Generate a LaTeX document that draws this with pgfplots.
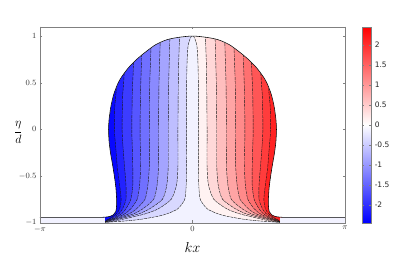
\documentclass[border=0pt]{standalone}
\usepackage{fontspec}
\usepackage{pgfplots}
\usepackage{pgfplotstable}
\pgfplotsset{compat=1.18}
\newfontfamily\cbfont{DejaVu Sans}

% band colours (lower level of each band, colour limits +-2.45)
\definecolor{bA}{rgb}{0.949,0.949,1}
\definecolor{bB}{rgb}{0.847,0.847,1}
\definecolor{bC}{rgb}{0.745,0.745,1}
\definecolor{bD}{rgb}{0.643,0.643,1}
\definecolor{bE}{rgb}{0.541,0.541,1}
\definecolor{bF}{rgb}{0.439,0.439,1}
\definecolor{bG}{rgb}{0.337,0.337,1}
\definecolor{bH}{rgb}{0.235,0.235,1}
\definecolor{bI}{rgb}{0.133,0.133,1}
\definecolor{bJ}{rgb}{0.031,0.031,1}
\definecolor{rA}{rgb}{1,0.949,0.949}
\definecolor{rB}{rgb}{1,0.847,0.847}
\definecolor{rC}{rgb}{1,0.745,0.745}
\definecolor{rD}{rgb}{1,0.643,0.643}
\definecolor{rE}{rgb}{1,0.541,0.541}
\definecolor{rF}{rgb}{1,0.439,0.439}
\definecolor{rG}{rgb}{1,0.337,0.337}
\definecolor{rH}{rgb}{1,0.235,0.235}
\definecolor{rI}{rgb}{1,0.133,0.133}

% free surface, then the two top corners of the box (rows 51,52)
\pgfplotstableread{
x y
-3.1416 -0.943
-2.00 -0.943
-1.85 -0.942
-1.72 -0.935
-1.63 -0.915
-1.58 -0.88
-1.565 -0.82
-1.565 -0.73
-1.58 -0.62
-1.61 -0.5
-1.65 -0.37
-1.69 -0.25
-1.72 -0.12
-1.73 0
-1.72 0.1
-1.68 0.25
-1.62 0.38
-1.53 0.5
-1.45 0.57
-1.32 0.66
-1.15 0.75
-0.94 0.84
-0.75 0.91
-0.53 0.96
-0.30 0.985
0 1.0
0.30 0.985
0.53 0.96
0.75 0.91
0.94 0.84
1.15 0.75
1.32 0.66
1.45 0.57
1.53 0.5
1.62 0.38
1.68 0.25
1.72 0.1
1.73 0
1.72 -0.12
1.69 -0.25
1.65 -0.37
1.61 -0.5
1.58 -0.62
1.565 -0.73
1.565 -0.82
1.58 -0.88
1.63 -0.915
1.72 -0.935
1.85 -0.942
2.00 -0.943
3.1416 -0.943
3.1416 1.1
-3.1416 1.1
}\surf

% contour lines, left side (first 3 rows only close the filled region)
\pgfplotstableread{
x y
-1.80 -0.94
-2.20 -0.93
-2.20 1.09
-1.57 1.09
-1.57 0.45
-1.60 0.25
-1.61 0
-1.58 -0.2
-1.55 -0.4
-1.50 -0.6
-1.47 -0.75
-1.50 -0.85
-1.56 -0.90
-1.63 -0.93
-1.72 -0.96
-1.77 -0.972
-1.80 -0.988
}\LA
\pgfplotstableread{
x y
-1.80 -0.94
-2.20 -0.93
-2.20 1.09
-1.41 1.09
-1.41 0.58
-1.44 0.35
-1.45 0
-1.43 -0.2
-1.40 -0.4
-1.37 -0.6
-1.37 -0.75
-1.44 -0.85
-1.51 -0.90
-1.59 -0.93
-1.71 -0.962
-1.76 -0.975
-1.80 -0.989
}\LB
\pgfplotstableread{
x y
-1.80 -0.94
-2.20 -0.93
-2.20 1.09
-1.21 1.09
-1.22 0.65
-1.24 0.4
-1.25 0
-1.24 -0.2
-1.23 -0.4
-1.23 -0.6
-1.27 -0.75
-1.37 -0.85
-1.45 -0.90
-1.54 -0.93
-1.69 -0.965
-1.75 -0.976
-1.80 -0.99
}\LC
\pgfplotstableread{
x y
-1.80 -0.94
-2.20 -0.93
-2.20 1.09
-1.04 1.09
-1.05 0.75
-1.07 0.4
-1.08 0
-1.07 -0.4
-1.09 -0.6
-1.14 -0.75
-1.27 -0.85
-1.38 -0.90
-1.49 -0.93
-1.66 -0.965
-1.74 -0.977
-1.80 -0.991
}\LD
\pgfplotstableread{
x y
-1.80 -0.94
-2.20 -0.93
-2.20 1.09
-0.85 1.09
-0.86 0.8
-0.88 0.5
-0.89 0
-0.89 -0.4
-0.92 -0.6
-0.98 -0.75
-1.15 -0.85
-1.29 -0.90
-1.43 -0.93
-1.63 -0.965
-1.72 -0.978
-1.80 -0.992
}\LE
\pgfplotstableread{
x y
-1.80 -0.94
-2.20 -0.93
-2.20 1.09
-0.66 1.09
-0.67 0.85
-0.69 0.5
-0.70 0
-0.70 -0.4
-0.73 -0.6
-0.80 -0.75
-1.02 -0.85
-1.19 -0.90
-1.36 -0.93
-1.59 -0.965
-1.70 -0.98
-1.80 -0.993
}\LF
\pgfplotstableread{
x y
-1.80 -0.94
-2.20 -0.93
-2.20 1.09
-0.46 1.09
-0.47 0.9
-0.49 0.5
-0.50 0
-0.50 -0.4
-0.53 -0.6
-0.62 -0.75
-0.88 -0.85
-1.08 -0.90
-1.27 -0.93
-1.55 -0.965
-1.68 -0.982
-1.80 -0.994
}\LG
\pgfplotstableread{
x y
-1.80 -0.94
-2.20 -0.93
-2.20 1.09
-0.27 1.09
-0.27 0.95
-0.29 0.6
-0.30 0
-0.30 -0.4
-0.33 -0.6
-0.44 -0.75
-0.70 -0.85
-0.94 -0.90
-1.16 -0.93
-1.45 -0.965
-1.62 -0.985
-1.80 -0.995
}\LH
\pgfplotstableread{
x y
-1.80 -0.94
-2.20 -0.93
-2.20 1.09
-0.01 1.09
-0.02 1.0
-0.05 0.97
-0.09 0.9
-0.11 0.75
-0.12 0.5
-0.12 0
-0.12 -0.4
-0.13 -0.6
-0.16 -0.75
-0.30 -0.85
-0.50 -0.90
-0.70 -0.93
-1.08 -0.965
-1.40 -0.982
-1.80 -0.996
}\LI

% contour lines, right side
\pgfplotstableread{
x y
1.80 -0.94
2.20 -0.93
2.20 1.09
1.57 1.09
1.57 0.45
1.60 0.25
1.61 0
1.58 -0.2
1.55 -0.4
1.50 -0.6
1.47 -0.75
1.50 -0.85
1.56 -0.90
1.63 -0.93
1.72 -0.96
1.77 -0.972
1.80 -0.988
}\RA
\pgfplotstableread{
x y
1.80 -0.94
2.20 -0.93
2.20 1.09
1.41 1.09
1.41 0.58
1.44 0.35
1.45 0
1.43 -0.2
1.40 -0.4
1.37 -0.6
1.37 -0.75
1.44 -0.85
1.51 -0.90
1.59 -0.93
1.71 -0.962
1.76 -0.975
1.80 -0.989
}\RB
\pgfplotstableread{
x y
1.80 -0.94
2.20 -0.93
2.20 1.09
1.21 1.09
1.22 0.65
1.24 0.4
1.25 0
1.24 -0.2
1.23 -0.4
1.23 -0.6
1.27 -0.75
1.37 -0.85
1.45 -0.90
1.54 -0.93
1.69 -0.965
1.75 -0.976
1.80 -0.99
}\RC
\pgfplotstableread{
x y
1.80 -0.94
2.20 -0.93
2.20 1.09
1.04 1.09
1.05 0.75
1.07 0.4
1.08 0
1.07 -0.4
1.09 -0.6
1.14 -0.75
1.27 -0.85
1.38 -0.90
1.49 -0.93
1.66 -0.965
1.74 -0.977
1.80 -0.991
}\RD
\pgfplotstableread{
x y
1.80 -0.94
2.20 -0.93
2.20 1.09
0.85 1.09
0.86 0.8
0.88 0.5
0.89 0
0.89 -0.4
0.92 -0.6
0.98 -0.75
1.15 -0.85
1.29 -0.90
1.43 -0.93
1.63 -0.965
1.72 -0.978
1.80 -0.992
}\RE
\pgfplotstableread{
x y
1.80 -0.94
2.20 -0.93
2.20 1.09
0.66 1.09
0.67 0.85
0.69 0.5
0.70 0
0.70 -0.4
0.73 -0.6
0.80 -0.75
1.02 -0.85
1.19 -0.90
1.36 -0.93
1.59 -0.965
1.70 -0.98
1.80 -0.993
}\RF
\pgfplotstableread{
x y
1.80 -0.94
2.20 -0.93
2.20 1.09
0.46 1.09
0.47 0.9
0.49 0.5
0.50 0
0.50 -0.4
0.53 -0.6
0.62 -0.75
0.88 -0.85
1.08 -0.90
1.27 -0.93
1.55 -0.965
1.68 -0.982
1.80 -0.994
}\RG
\pgfplotstableread{
x y
1.80 -0.94
2.20 -0.93
2.20 1.09
0.27 1.09
0.27 0.95
0.29 0.6
0.30 0
0.30 -0.4
0.33 -0.6
0.44 -0.75
0.70 -0.85
0.94 -0.90
1.16 -0.93
1.45 -0.965
1.62 -0.985
1.80 -0.995
}\RH
\pgfplotstableread{
x y
1.80 -0.94
2.20 -0.93
2.20 1.09
0.01 1.09
0.02 1.0
0.05 0.97
0.09 0.9
0.11 0.75
0.12 0.5
0.12 0
0.12 -0.4
0.13 -0.6
0.16 -0.75
0.30 -0.85
0.50 -0.90
0.70 -0.93
1.08 -0.965
1.40 -0.982
1.80 -0.996
}\RI

\begin{document}
\begin{tikzpicture}
\useasboundingbox (-40pt,-40.3pt) rectangle (367pt,222.7pt);
\begin{axis}[
    at={(0,0)}, anchor=south west,
    width=305pt, height=196pt, scale only axis,
    xmin=-3.14159, xmax=3.14159,
    ymin=-1, ymax=1.1,
    xtick={-3.14159,0,3.14159},
    xticklabels={$-\pi$,$0$,$\pi$},
    ytick={-1,-0.5,0,0.5,1},
    tick align=inside,
    major tick length=2.5pt,
    axis line style={gray},
    tick style={gray},
    tick label style={font=\fontsize{8}{9}\selectfont, text=black!80},
    xlabel={$kx$},
    xlabel style={at={(axis description cs:0.5,-0.124)}, anchor=center,
        font=\fontsize{14}{16}\selectfont},
    ylabel={$\displaystyle\frac{\eta}{d}$},
    ylabel style={at={(axis description cs:-0.071,0.46)}, anchor=center,
        rotate=-90, font=\fontsize{12}{14}\selectfont},
    axis on top,
    no markers,
    colormap={bwr}{rgb=(0,0,1) rgb=(1,1,1) rgb=(1,0,0)},
    point meta min=-2.45, point meta max=2.45,
    colorbar,
    colorbar style={
        at={(parent axis.north east)}, anchor=north west, xshift=8.7pt,
        width=9pt, height=196pt, scale only axis,
        ytick={-2,-1.5,-1,-0.5,0,0.5,1,1.5,2},
        yticklabels={-2,-1.5,-1,-0.5,0,0.5,1,1.5,2},
        yticklabel style={font=\cbfont\fontsize{7.5}{8}\selectfont, text=black!85},
        axis line style={gray}, ytick style={gray}, major tick length=2pt,
    },
    cline/.style={black!90, line width=0.4pt, dash pattern=on 3pt off 0.8pt,
        skip coords between index={0}{3}},
]
% lavender background (band -0.125..0.125)
\addplot[fill=bA, draw=none] coordinates {(-3.1416,-1) (3.1416,-1) (3.1416,1.1) (-3.1416,1.1)};

% blue bands, widest first
\addplot[fill=bB, draw=none] table {\LI};
\addplot[fill=bC, draw=none] table {\LH};
\addplot[fill=bD, draw=none] table {\LG};
\addplot[fill=bE, draw=none] table {\LF};
\addplot[fill=bF, draw=none] table {\LE};
\addplot[fill=bG, draw=none] table {\LD};
\addplot[fill=bH, draw=none] table {\LC};
\addplot[fill=bI, draw=none] table {\LB};
\addplot[fill=bJ, draw=none] table {\LA};

% red bands, widest first
\addplot[fill=rA, draw=none] table {\RI};
\addplot[fill=rB, draw=none] table {\RH};
\addplot[fill=rC, draw=none] table {\RG};
\addplot[fill=rD, draw=none] table {\RF};
\addplot[fill=rE, draw=none] table {\RE};
\addplot[fill=rF, draw=none] table {\RD};
\addplot[fill=rG, draw=none] table {\RC};
\addplot[fill=rH, draw=none] table {\RB};
\addplot[fill=rI, draw=none] table {\RA};

% contour lines
\addplot[cline, smooth, tension=0.4] table {\LA};
\addplot[cline, smooth, tension=0.4] table {\LB};
\addplot[cline, smooth, tension=0.4] table {\LC};
\addplot[cline, smooth, tension=0.4] table {\LD};
\addplot[cline, smooth, tension=0.4] table {\LE};
\addplot[cline, smooth, tension=0.4] table {\LF};
\addplot[cline, smooth, tension=0.4] table {\LG};
\addplot[cline, smooth, tension=0.4] table {\LH};
\addplot[cline, smooth, tension=0.4] table {\LI};
\addplot[cline, smooth, tension=0.4] table {\RA};
\addplot[cline, smooth, tension=0.4] table {\RB};
\addplot[cline, smooth, tension=0.4] table {\RC};
\addplot[cline, smooth, tension=0.4] table {\RD};
\addplot[cline, smooth, tension=0.4] table {\RE};
\addplot[cline, smooth, tension=0.4] table {\RF};
\addplot[cline, smooth, tension=0.4] table {\RG};
\addplot[cline, smooth, tension=0.4] table {\RH};
\addplot[cline, smooth, tension=0.4] table {\RI};

% air above the surface
\addplot[fill=white, draw=none] table {\surf};
% free surface
\addplot[black, line width=0.55pt, smooth, tension=0.5,
    skip coords between index={51}{53}] table {\surf};
\end{axis}
\end{tikzpicture}
\end{document}
